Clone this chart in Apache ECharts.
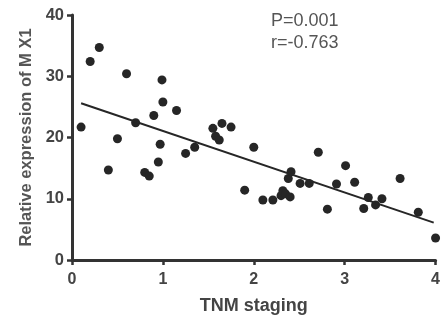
<!DOCTYPE html>
<html>
<head>
<meta charset="utf-8">
<script src="https://cdn.jsdelivr.net/npm/echarts@6/dist/echarts.min.js"></script>
<style>html,body{margin:0;padding:0;background:#fff}#c{width:443px;height:324px}</style>
</head>
<body>
<div id="c"></div>
<script>
var tnmStage = [0.1,0.2,0.3,0.4,0.5,0.6,0.7,0.8,0.85,0.9,0.95,0.97,0.99,1.0,1.15,1.25,1.35,1.55,1.58,1.62,1.65,1.75,1.9,2.0,2.1,2.21,2.3,2.32,2.35,2.38,2.4,2.41,2.51,2.61,2.71,2.81,2.91,3.01,3.11,3.21,3.26,3.34,3.41,3.61,3.81,4.0];
var mx1Expr = [21.7,32.4,34.7,14.7,19.8,30.4,22.4,14.3,13.7,23.6,16.0,18.9,29.4,25.8,24.4,17.4,18.4,21.5,20.2,19.6,22.3,21.7,11.4,18.4,9.8,9.8,10.5,11.3,10.8,13.3,10.3,14.4,12.5,12.5,17.6,8.3,12.4,15.4,12.7,8.4,10.2,9.0,10.0,13.3,7.8,3.6];
var fitX = [0.1, 3.98];
var fitY = [25.6, 6.1];
var xTicks = [0,1,2,3,4];
var yTicks = [0,10,20,30,40];
var statsText = ['P=0.001', 'r=-0.763'];

var points = tnmStage.map(function(x,i){return [x, mx1Expr[i]];});
var linePts = fitX.map(function(x,i){return [x, fitY[i]];});
var axisCol = '#333';
var txtCol = '#444';
var chart = echarts.init(document.getElementById('c'));
chart.setOption({
  animation:false,
  backgroundColor:'#fff',
  grid:{left:72,right:5,top:15,bottom:64},
  xAxis:{type:'value',min:xTicks[0],max:xTicks[xTicks.length-1],interval:1,
    name:'TNM staging',nameLocation:'middle',nameGap:37,
    nameTextStyle:{fontFamily:'Liberation Sans',fontWeight:'bold',fontSize:18,color:txtCol},
    axisLine:{lineStyle:{color:axisCol,width:3}},
    axisTick:{length:5,lineStyle:{color:axisCol,width:2.5}},
    axisLabel:{margin:12,fontFamily:'Liberation Sans',fontWeight:'bold',fontSize:16,color:txtCol},
    splitLine:{show:false}},
  yAxis:{type:'value',min:yTicks[0],max:yTicks[yTicks.length-1],interval:10,
    name:'Relative expression of M X1',nameLocation:'middle',nameGap:30,
    nameTextStyle:{fontFamily:'Liberation Sans',fontWeight:'bold',fontSize:16.5,color:'#555'},
    axisLine:{lineStyle:{color:axisCol,width:3}},
    axisTick:{length:5,lineStyle:{color:axisCol,width:2.5}},
    axisLabel:{margin:8,fontFamily:'Liberation Sans',fontWeight:'bold',fontSize:16.5,color:txtCol},
    splitLine:{show:false}},
  graphic:[{type:'text',left:271,top:10,style:{text:statsText.join('\n'),fontFamily:'Liberation Sans',fontSize:18,lineHeight:22,fill:'#555'}}],
  series:[
    {type:'scatter',data:points,symbolSize:9,itemStyle:{color:'#262626',opacity:1}},
    {type:'line',data:linePts,symbol:'none',lineStyle:{color:'#262626',width:2}}
  ]
});
</script>
</body>
</html>
